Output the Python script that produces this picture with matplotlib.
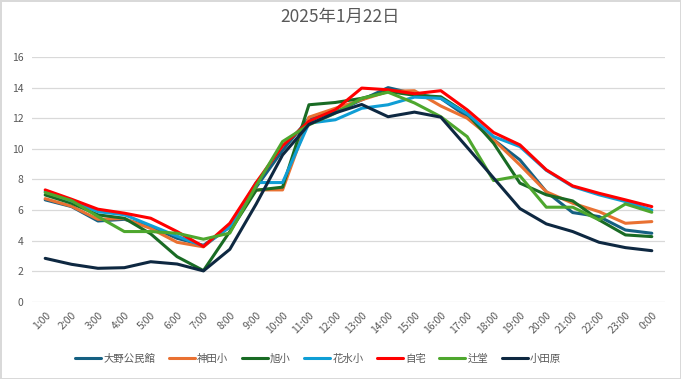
import matplotlib
matplotlib.use('Agg')
import matplotlib.pyplot as plt

plt.rcParams['font.family'] = ['Noto Sans CJK JP', 'DejaVu Sans']

hours = ['1:00', '2:00', '3:00', '4:00', '5:00', '6:00', '7:00', '8:00', '9:00', '10:00',
         '11:00', '12:00', '13:00', '14:00', '15:00', '16:00', '17:00', '18:00', '19:00',
         '20:00', '21:00', '22:00', '23:00', '0:00']

oono = [6.67, 6.23, 5.29, 5.4, 4.92, 4.16, 3.7, 4.9, 7.5, 9.9, 12.0, 12.4, 13.2, 14.0,
        13.6, 13.3, 12.1, 10.6, 9.28, 7.2, 5.84, 5.58, 4.7, 4.49]
kanda = [6.75, 6.25, 5.4, 5.45, 4.8, 3.9, 3.6, 5.0, 7.32, 7.32, 12.07, 12.65, 13.2, 13.75,
         13.8, 12.8, 12.0, 10.6, 8.95, 7.2, 6.45, 5.9, 5.14, 5.25]
asahi = [6.99, 6.45, 5.69, 5.47, 4.45, 2.96, 2.05, 4.6, 7.3, 7.5, 12.88, 13.03, 13.3, 13.75,
         13.5, 13.4, 12.3, 10.37, 7.76, 7.0, 6.6, 5.36, 4.38, 4.27]
hanamizu = [7.2, 6.6, 5.9, 5.7, 5.0, 4.3, 3.65, 4.9, 7.8, 7.8, 11.68, 11.9, 12.65, 12.88,
            13.38, 13.3, 12.3, 10.8, 10.15, 8.6, 7.54, 7.0, 6.56, 6.0]
jitaku = [7.32, 6.71, 6.06, 5.8, 5.47, 4.6, 3.62, 5.14, 7.8, 10.2, 11.8, 12.55, 13.97, 13.86,
          13.6, 13.8, 12.55, 11.07, 10.26, 8.63, 7.58, 7.1, 6.67, 6.23]
tsujido = [7.15, 6.62, 5.58, 4.6, 4.6, 4.49, 4.1, 4.5, 7.6, 10.48, 11.57, 12.33, 13.3, 13.7,
           13.0, 12.1, 10.8, 7.93, 8.24, 6.19, 6.19, 5.36, 6.4, 5.86]
odawara = [2.85, 2.46, 2.2, 2.24, 2.63, 2.48, 2.03, 3.44, 6.4, 9.6, 11.6, 12.35, 12.9, 12.1,
           12.4, 12.07, 10.1, 8.1, 6.1, 5.1, 4.6, 3.9, 3.55, 3.35]

series = [
    ('大野公民館', oono, '#156082'),
    ('神田小', kanda, '#E97132'),
    ('旭小', asahi, '#196B24'),
    ('花水小', hanamizu, '#0F9ED5'),
    ('自宅', jitaku, '#FF0000'),
    ('辻堂', tsujido, '#4EA72E'),
    ('小田原', odawara, '#0E2841'),
]

fig = plt.figure(figsize=(6.81, 3.79), dpi=100)
fig.patch.set_edgecolor('#d9d9d9')
fig.patch.set_linewidth(1.0)
ax = fig.add_axes([0.047, 0.2032, 0.9295, 0.6464])

x = list(range(len(hours)))
for name, vals, col in series:
    ax.plot(x, vals, color=col, lw=2.2, label=name, solid_capstyle='round')

ax.set_xlim(-0.5, len(hours) - 0.5)
ax.set_ylim(0, 16)
ax.set_yticks(range(0, 17, 2))
ax.set_xticks(x)
ax.set_xticklabels(hours, rotation=45, ha='right', rotation_mode='anchor')
ax.grid(axis='y', color='#d9d9d9', lw=0.9)
ax.set_axisbelow(True)
for s in ax.spines.values():
    s.set_visible(False)
ax.tick_params(axis='both', length=0, labelsize=7.5, colors='#595959')
ax.tick_params(axis='x', pad=6)
ax.tick_params(axis='y', pad=6)

fig.suptitle('2025年1月22日', x=0.5, y=0.98, fontsize=12.5, color='#595959')

ax.legend(loc='center left', bbox_to_anchor=(0.097, 0.053), bbox_transform=fig.transFigure,
          ncol=7, frameon=False, fontsize=7.5, handlelength=2.5, handletextpad=0.2,
          columnspacing=1.3, labelcolor='#595959')

plt.savefig('out.png', dpi=100)
